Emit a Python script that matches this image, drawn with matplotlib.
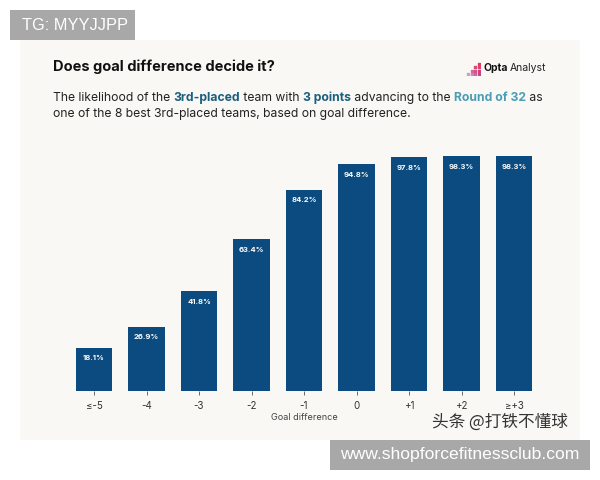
import matplotlib
matplotlib.use("Agg")
import matplotlib.pyplot as plt
from matplotlib.patches import Rectangle

categories = ["≤-5", "-4", "-3", "-2", "-1", "0", "+1", "+2", "≥+3"]
likelihood = [18.1, 26.9, 41.8, 63.4, 84.2, 94.8, 97.8, 98.3, 98.3]

W, H = 600, 480
bar_color = "#0b4b7f"
panel_color = "#f9f8f4"
fam = ["Inter", "DejaVu Sans"]

fig = plt.figure(figsize=(6, 4.8), dpi=100)
fig.patch.set_facecolor("white")

def fx(px):
    return px / W

def fy(py):
    return 1 - py / H

# panel background
fig.patches.append(Rectangle((fx(20), fy(440)), fx(560), 400 / H,
                             transform=fig.transFigure, facecolor=panel_color,
                             edgecolor="none", zorder=-5))

# bars
ax = fig.add_axes([fx(67.75), fy(391), fx(472.5), 239 / H])
ax.set_facecolor("none")
x = range(len(categories))
ax.bar(x, likelihood, width=0.7, color=bar_color, zorder=2)
for i, v in enumerate(likelihood):
    ax.text(i, v - 3.2, f"{v:.1f}%", ha="center", va="top", color="white",
            fontsize=5.5, fontweight="bold", family=fam)
ax.set_xlim(-0.5, len(categories) - 0.5)
ax.set_ylim(0, 100)
ax.set_xticks(list(x))
ax.set_xticklabels(categories, fontsize=7, color="#333333", family=fam)
ax.tick_params(axis="x", length=3, width=0.6, color="#555555", pad=4)
ax.set_yticks([])
for s in ax.spines.values():
    s.set_visible(False)
ax.set_xlabel("Goal difference", fontsize=6.5, color="#444444", family=fam, labelpad=2)

# title
fig.text(fx(53), fy(67), "Does goal difference decide it?", fontsize=10.5,
         fontweight="bold", color="#111111", family=fam, va="center")

# subtitle with coloured bold segments
fig.canvas.draw()
renderer = fig.canvas.get_renderer()

def rich_line(px, py, parts):
    cur = fx(px)
    for txt, color, weight in parts:
        t = fig.text(cur, fy(py), txt, fontsize=8.75, color=color,
                     fontweight=weight, family=fam, va="center")
        bb = t.get_window_extent(renderer)
        cur += bb.width / W

dark = "#222222"
teal = "#1b5e7e"
light_teal = "#4a9db3"
rich_line(53, 98, [("The likelihood of the ", dark, "normal"),
                   ("3rd-placed", teal, "bold"),
                   (" team with ", dark, "normal"),
                   ("3 points", teal, "bold"),
                   (" advancing to the ", dark, "normal"),
                   ("Round of 32", light_teal, "bold"),
                   (" as", dark, "normal")])
rich_line(53, 114, [("one of the 8 best 3rd-placed teams, based on goal difference.", dark, "normal")])

# Opta Analyst logo
lax = fig.add_axes([fx(466), fy(76), fx(15), 14 / H])
lax.axis("off")
dots_x = [0, 1, 1, 2, 2, 2, 3, 3, 3, 3]
dots_y = [0, 0, 1, 0, 1, 2, 0, 1, 2, 3]
lax.scatter(dots_x, dots_y, s=1.6, marker="s",
            c=["#c9a0c8", "#c48ab8", "#d06aa0", "#c56aa5", "#d8528a",
               "#d84a7a", "#b84d90", "#d0407a", "#e0406a", "#e63a5c"])
lax.set_xlim(-0.5, 3.5)
lax.set_ylim(-0.5, 3.5)
t = fig.text(fx(483), fy(68), "Opta", fontsize=7.5, fontweight="bold",
             color="#111111", family=fam, va="center")
bb = t.get_window_extent(renderer)
fig.text(fx(483) + bb.width / W + fx(2), fy(68), "Analyst", fontsize=7.5,
         color="#222222", family=fam, va="center")

# watermarks
fig.patches.append(Rectangle((fx(10), fy(40)), fx(125), 30 / H,
                             transform=fig.transFigure, facecolor="#a8a8a8",
                             edgecolor="none", zorder=5))
fig.text(fx(22), fy(25), "TG: MYYJJPP", fontsize=11.8, color="white",
         family=["Liberation Sans", "DejaVu Sans"], va="center", zorder=6)
fig.patches.append(Rectangle((fx(330), fy(470)), fx(260), 30 / H,
                             transform=fig.transFigure, facecolor="#a8a8a8",
                             edgecolor="none", zorder=5))
fig.text(fx(460), fy(455), "www.shopforcefitnessclub.com", fontsize=12.6,
         color="white", ha="center", family=["Liberation Sans", "DejaVu Sans"],
         va="center", zorder=6)
fig.text(fx(500), fy(422), "头条 @打铁不懂球", fontsize=12, color="#333333",
         ha="center", va="center", family=["Noto Sans CJK SC", "DejaVu Sans"])

fig.savefig("out.png", dpi=100, facecolor=fig.get_facecolor())
